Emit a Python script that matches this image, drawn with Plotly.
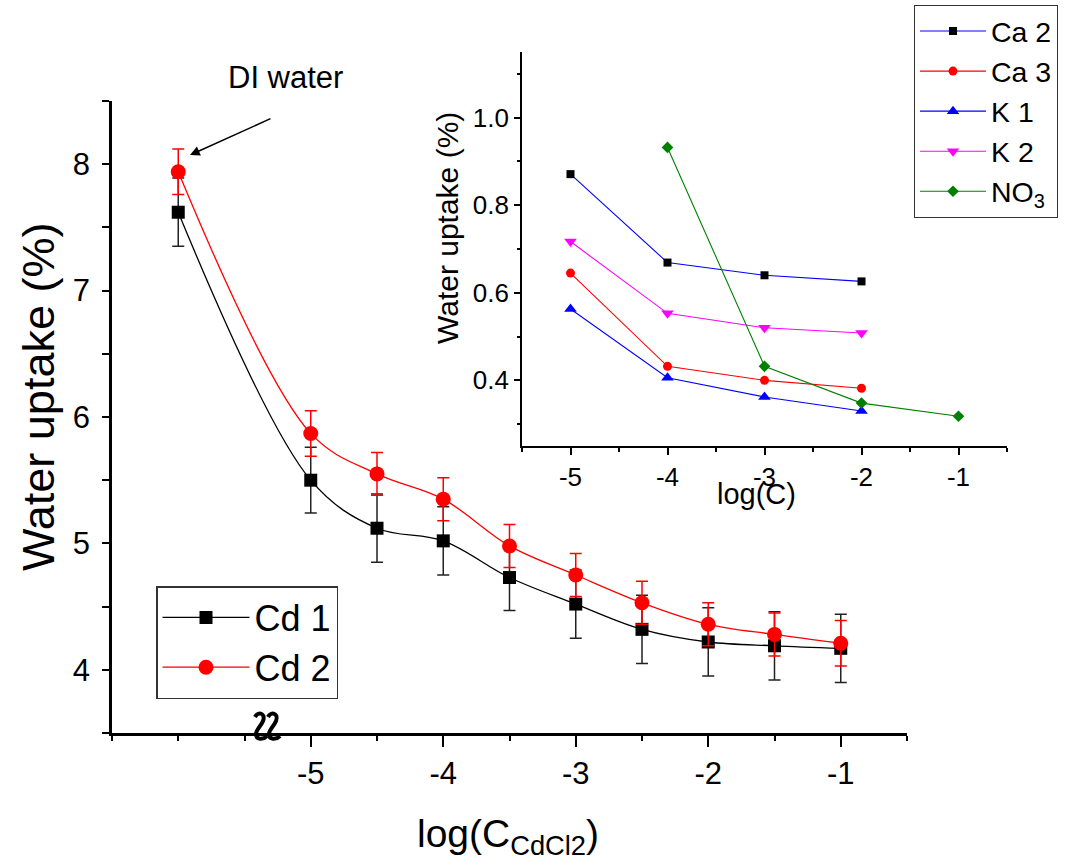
import plotly.graph_objects as go

W, H = 1071, 865
FONT = "Liberation Sans, Arial, sans-serif"

# Main panel: water uptake vs log of CdCl2 concentration (-6 stands for DI water)
log_c = [-6.0, -5.0, -4.5, -4.0, -3.5, -3.0, -2.5, -2.0, -1.5, -1.0]
cd1 = [7.62, 5.50, 5.12, 5.02, 4.73, 4.52, 4.32, 4.22, 4.19, 4.17]
cd1_err = [0.27, 0.26, 0.27, 0.27, 0.26, 0.27, 0.27, 0.27, 0.27, 0.27]
cd2 = [7.94, 5.87, 5.55, 5.35, 4.98, 4.75, 4.53, 4.36, 4.28, 4.21]
cd2_err = [0.18, 0.18, 0.17, 0.17, 0.17, 0.17, 0.17, 0.17, 0.17, 0.18]

main_ticks = [-5, -4, -3, -2, -1]
main_tick_text = ["-5", "-4", "-3", "-2", "-1"]
main_minor = [-6.5, -6.0, -5.5, -4.5, -3.5, -2.5, -1.5, -0.5]
y_ticks = [4, 5, 6, 7, 8]
y_minor = [3.5, 4.5, 5.5, 6.5, 7.5, 8.5]

# Inset panel: other salts
inset_c = [-5, -4, -3, -2]
ca2 = [0.871, 0.669, 0.640, 0.626]
ca3 = [0.645, 0.432, 0.400, 0.382]
k1 = [0.563, 0.406, 0.362, 0.330]
k2 = [0.717, 0.553, 0.520, 0.508]
no3_c = [-4, -3, -2, -1]
no3 = [0.932, 0.432, 0.348, 0.318]

inset_ticks = [-5, -4, -3, -2, -1]
inset_tick_text = ["-5", "-4", "-3", "-2", "-1"]
inset_minor = [-5.5, -4.5, -3.5, -2.5, -1.5, -0.5]
inset_y_ticks = [0.4, 0.6, 0.8, 1.0]
inset_y_text = ["0.4", "0.6", "0.8", "1.0"]
inset_y_minor = [0.3, 0.5, 0.7, 0.9, 1.1]


def px(x):
    return x / W


def py(y):
    return 1 - y / H


fig = go.Figure()

fig.add_trace(go.Scatter(
    x=log_c, y=cd1, name="Cd 1", mode="lines+markers",
    line=dict(color="black", width=1.3, shape="spline", smoothing=1.0),
    marker=dict(symbol="square", size=13, color="black"),
    error_y=dict(type="data", array=cd1_err, color="#222222", thickness=1.5, width=6),
    legend="legend",
))
fig.add_trace(go.Scatter(
    x=log_c, y=cd2, name="Cd 2", mode="lines+markers",
    line=dict(color="red", width=1.3, shape="spline", smoothing=1.0),
    marker=dict(symbol="circle", size=15, color="red"),
    error_y=dict(type="data", array=cd2_err, color="red", thickness=1.5, width=6),
    legend="legend",
))

inset_series = [
    ("Ca 2", inset_c, ca2, "#0000FF", "square", 8, "black"),
    ("Ca 3", inset_c, ca3, "#FF0000", "circle", 9, "#FF0000"),
    ("K 1", inset_c, k1, "#0000FF", "triangle-up", 11, "#0000FF"),
    ("K 2", inset_c, k2, "#FF00FF", "triangle-down", 11, "#FF00FF"),
    ("NO<sub>3</sub>", no3_c, no3, "#008000", "diamond", 9, "#008000"),
]
for name, xs, ys, lc, sym, size, mc in inset_series:
    fig.add_trace(go.Scatter(
        x=xs, y=ys, name=name, mode="lines+markers",
        line=dict(color=lc, width=1.1),
        marker=dict(symbol=sym, size=size, color=mc),
        xaxis="x2", yaxis="y2", legend="legend2",
    ))

axis_common = dict(showgrid=False, zeroline=False, showline=True, linecolor="black",
                   ticks="outside", tickcolor="black", mirror=False)

fig.update_layout(
    width=W, height=H,
    margin=dict(l=0, r=0, t=0, b=0),
    paper_bgcolor="white", plot_bgcolor="rgba(0,0,0,0)",
    font=dict(family=FONT, color="black"),
    xaxis=dict(**axis_common, domain=[px(112), px(907)], range=[-6.5, -0.5], anchor="y",
               linewidth=2.5, tickwidth=2, ticklen=11,
               tickvals=main_ticks, ticktext=main_tick_text, tickfont=dict(size=31),
               minor=dict(tickvals=main_minor, ticks="outside", ticklen=5, tickwidth=2, tickcolor="black")),
    yaxis=dict(**axis_common, domain=[py(733), py(101)], range=[3.5, 8.5], anchor="x",
               linewidth=2.5, tickwidth=2, ticklen=7, ticklabelstandoff=6,
               tickvals=y_ticks, ticktext=[str(v) for v in y_ticks], tickfont=dict(size=31),
               minor=dict(tickvals=y_minor, ticks="outside", ticklen=7, tickwidth=2, tickcolor="black")),
    xaxis2=dict(**axis_common, domain=[px(522), px(1007)], range=[-5.5, -0.5], anchor="y2",
                linewidth=1.8, tickwidth=1.5, ticklen=7,
                tickvals=inset_ticks, ticktext=inset_tick_text, tickfont=dict(size=26),
                minor=dict(tickvals=inset_minor, ticks="outside", ticklen=4, tickwidth=1.5, tickcolor="black")),
    yaxis2=dict(**axis_common, domain=[py(446), py(52)], range=[0.25, 1.15], anchor="x2",
                linewidth=1.8, tickwidth=1.5, ticklen=6,
                tickvals=inset_y_ticks, ticktext=inset_y_text, tickfont=dict(size=26),
                minor=dict(tickvals=inset_y_minor, ticks="outside", ticklen=3, tickwidth=1.5, tickcolor="black")),
    legend=dict(x=px(156), y=py(586), xanchor="left", yanchor="top",
                bgcolor="white", bordercolor="#333333", borderwidth=1.5,
                font=dict(size=36, family=FONT), itemwidth=87),
    legend2=dict(x=px(914), y=py(5), xanchor="left", yanchor="top",
                 bgcolor="white", bordercolor="#333333", borderwidth=1,
                 font=dict(size=28.5, family=FONT), itemwidth=66),
    showlegend=True,
)

annotations = [
    dict(text="Water uptake (%)", x=px(38), y=py(397), textangle=-90,
         font=dict(size=45)),
    dict(text="log(C<sub>CdCl2</sub>)", x=px(508), y=py(836),
         font=dict(size=39)),
    dict(text="Water uptake (%)", x=px(448), y=py(228), textangle=-90,
         font=dict(size=30)),
    dict(text="log(C)", x=px(756), y=py(494), font=dict(size=29)),
    dict(text="DI water", x=px(285), y=py(78), font=dict(size=31)),
    dict(text="", x=px(190), y=py(155), ax=82, ay=-37, showarrow=True,
         arrowhead=2, arrowsize=1.3, arrowwidth=1.5, arrowcolor="black"),
]
for a in annotations:
    a.setdefault("xref", "paper")
    a.setdefault("yref", "paper")
    a.setdefault("showarrow", False)
    a.setdefault("xanchor", "center")
    a.setdefault("yanchor", "middle")
    a["font"] = dict(family=FONT, color="black", **a.get("font", {}))
    fig.add_annotation(**a)


# Axis-break squiggles on the main x axis
def squiggle(x0, y0):
    pts = [(x0, y0 + 5), (x0 + 3, y0 - 1), (x0 + 11, y0 + 1), (x0 + 8, y0 + 9),
           (x0 + 6, y0 + 14), (x0 + 1, y0 + 18), (x0 + 1, y0 + 22),
           (x0 + 1, y0 + 28), (x0 + 8, y0 + 28), (x0 + 12, y0 + 24)]
    p = [(px(a), py(b)) for a, b in pts]
    return ("M{:.5f},{:.5f} C{:.5f},{:.5f} {:.5f},{:.5f} {:.5f},{:.5f} "
            "C{:.5f},{:.5f} {:.5f},{:.5f} {:.5f},{:.5f} "
            "C{:.5f},{:.5f} {:.5f},{:.5f} {:.5f},{:.5f}").format(
        *[c for xy in p for c in xy])


for sx in (255, 268):
    fig.add_shape(type="path", path=squiggle(sx, 712), xref="paper", yref="paper",
                  line=dict(color="black", width=4))

fig.write_html("out.html")
